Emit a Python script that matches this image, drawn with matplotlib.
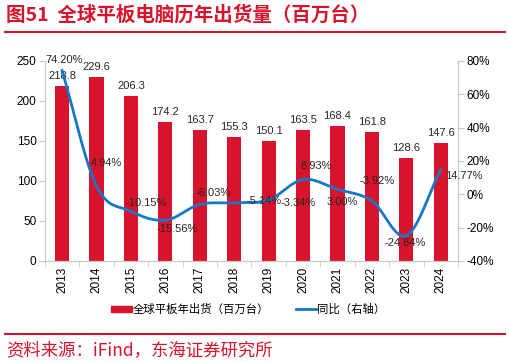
import numpy as np
import matplotlib.pyplot as plt
from matplotlib.lines import Line2D
from matplotlib.patches import Patch

plt.rcParams['font.family'] = ['Liberation Sans', 'Noto Sans CJK SC', 'DejaVu Sans']

years = ['2013', '2014', '2015', '2016', '2017', '2018', '2019', '2020', '2021', '2022', '2023', '2024']
shipments = [218.8, 229.6, 206.3, 174.2, 163.7, 155.3, 150.1, 163.5, 168.4, 161.8, 128.6, 147.6]
yoy = [74.20, 4.94, -10.15, -15.56, -6.03, -5.14, -3.34, 8.93, 3.00, -3.92, -24.84, 14.77]
yoy_labels = ['74.20%', '4.94%', '-10.15%', '-15.56%', '-6.03%', '-5.14%', '-3.34%',
              '8.93%', '3.00%', '-3.92%', '-24.84%', '14.77%']
# label offsets in pixels (dx, dy) for the yoy labels
yoy_offsets = [(2, 11), (10, 23), (15, 8), (12, -9), (13, 11), (30, 2), (29, -3),
               (13, 13), (5, -13), (5, 20), (-1, -7), (23, -6)]

RED = '#D7142B'
BLUE = '#1577C6'
GREY = '#C8C8C8'
CJK = ['Noto Sans CJK SC', 'DejaVu Sans']


def catmull_rom(x, y, n=30):
    # smooth curve through the points, like Excel's smoothed line
    x = np.asarray(x, float)
    y = np.asarray(y, float)
    px = np.concatenate([[2 * x[0] - x[1]], x, [2 * x[-1] - x[-2]]])
    py = np.concatenate([[2 * y[0] - y[1]], y, [2 * y[-1] - y[-2]]])
    xs, ys = [], []
    t = np.linspace(0, 1, n)
    for i in range(1, len(px) - 2):
        for p, out in ((px, xs), (py, ys)):
            p0, p1, p2, p3 = p[i - 1], p[i], p[i + 1], p[i + 2]
            out.extend(0.5 * (2 * p1 + (-p0 + p2) * t + (2 * p0 - 5 * p1 + 4 * p2 - p3) * t**2
                              + (-p0 + 3 * p1 - 3 * p2 + p3) * t**3))
    return np.array(xs), np.array(ys)


fig = plt.figure(figsize=(5.1, 3.63), dpi=100)
ax = fig.add_axes([0.088, 0.281, 0.81, 0.551])
ax2 = ax.twinx()

x = np.arange(len(years))
ax.bar(x, shipments, width=0.41, color=RED, zorder=2)
for xi, v in zip(x, shipments):
    ax.annotate(f'{v:.1f}', (xi, v), xytext=(0, 10), textcoords='offset pixels',
                ha='center', va='center', fontsize=8, color='#262626')

ax.set_xlim(-0.5, len(years) - 0.5)
ax.set_ylim(0, 250)
ax.set_yticks(range(0, 251, 50))
ax.set_xticks(x)
ax.set_xticklabels(years, rotation=90, fontsize=8.5)
ax.set_xticks(np.arange(-0.5, len(years), 1), minor=True)
ax.tick_params(axis='x', which='major', length=0, pad=4)
ax.tick_params(axis='x', which='minor', length=4, color=GREY)
ax.tick_params(axis='y', labelsize=8.5, length=4, color=GREY, pad=2)

sx, sy = catmull_rom(x, yoy)
ax2.plot(sx, sy, color=BLUE, lw=2, zorder=3)
for xi, v, lab, (dx, dy) in zip(x, yoy, yoy_labels, yoy_offsets):
    ax2.annotate(lab, (xi, v), xytext=(dx, dy), textcoords='offset pixels',
                 ha='center', va='center', fontsize=8, color='#262626')
ax2.set_ylim(-40, 80)
ax2.set_yticks(range(-40, 81, 20))
ax2.set_yticklabels([f'{t}%' for t in range(-40, 81, 20)])
ax2.tick_params(axis='y', labelsize=8.5, length=4, color=GREY, pad=2)

for a in (ax, ax2):
    a.spines['top'].set_visible(False)
    for s in ('left', 'right', 'bottom'):
        a.spines[s].set_color(GREY)
        a.spines[s].set_linewidth(0.8)
ax2.spines['left'].set_visible(False)

handles = [Patch(color=RED), Line2D([], [], color=BLUE, lw=2)]
fig.legend(handles, ['全球平板年出货（百万台）', '同比（右轴）'], loc='center',
           bbox_to_anchor=(0.487, 0.148), ncol=2, frameon=False,
           prop={'family': CJK, 'size': 8.2}, handlelength=1.8, handleheight=0.5,
           handletextpad=0.1, columnspacing=2.3)

fig.text(0.012, 0.958, '图51  全球平板电脑历年出货量（百万台）', color=RED, fontsize=14,
         fontweight='bold', family=CJK, va='center', ha='left')
fig.add_artist(Line2D([0.01, 0.99], [0.912, 0.912], color=RED, lw=1.5))
fig.add_artist(Line2D([0.01, 0.99], [0.08, 0.08], color=RED, lw=1.5))
fig.text(0.012, 0.035, '资料来源：iFind，东海证券研究所', color=RED, fontsize=12.5,
         family=CJK, va='center', ha='left')

fig.savefig('out.png', dpi=100)
